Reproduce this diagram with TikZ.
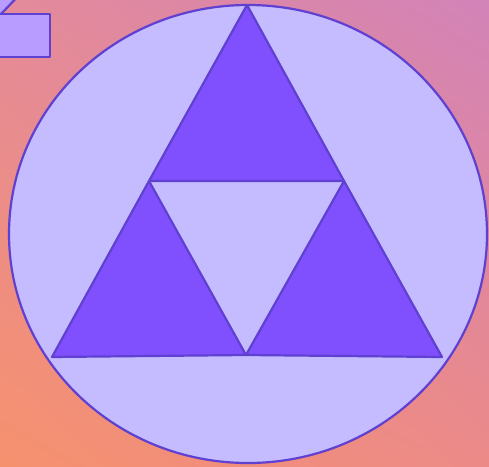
\documentclass[tikz,border=0pt]{standalone}
\usepackage{tikz}
\usetikzlibrary{shadings}
\definecolor{bgorange}{RGB}{246,145,110}
\definecolor{bgpink}{RGB}{228,138,154}
\definecolor{bgmauve}{RGB}{210,131,184}
\definecolor{bgsalmon}{RGB}{236,138,136}
\definecolor{disclilac}{RGB}{196,188,255}
\definecolor{edgeviolet}{RGB}{96,64,208}
\definecolor{triviolet}{RGB}{128,80,255}
\definecolor{tablilac}{RGB}{184,156,255}

\begin{document}
\begin{tikzpicture}[
    x=1pt, y=-1pt,
    outline/.style={draw=edgeviolet, line width=2.2pt, line join=round},
    disc/.style={outline, fill=disclilac},
    solid tri/.style={outline, fill=triviolet},
    tab/.style={outline, fill=tablilac}
]
\useasboundingbox (0,0) rectangle (489,466);
\shade[upper left=bgpink, upper right=bgmauve, lower left=bgorange, lower right=bgsalmon]
    (0,0) rectangle (489,466);

% corner tab, cut by the page edge
\begin{scope}
\clip (0,0) rectangle (489,466);
\draw[tab] (-10,-10) -- (24,-10) -- (1,14) -- (-10,14) -- cycle;
\draw[tab] (-10,14) -- (50,14) -- (50,57) -- (-10,57) -- cycle;
\end{scope}

% disc
\draw[disc] (248,234) ellipse [x radius=239, y radius=229];

% triangle corners and edge midpoints
\coordinate (apex) at (247,5);
\coordinate (baseL) at (52,357);
\coordinate (baseR) at (442,357);
\coordinate (midL) at (149,181);
\coordinate (midR) at (344,181);
\coordinate (midB) at (246,355);

\draw[solid tri] (apex) -- (midL) -- (midR) -- cycle;
\draw[solid tri] (midL) -- (baseL) -- (midB) -- cycle;
\draw[solid tri] (midR) -- (midB) -- (baseR) -- cycle;
\end{tikzpicture}
\end{document}
